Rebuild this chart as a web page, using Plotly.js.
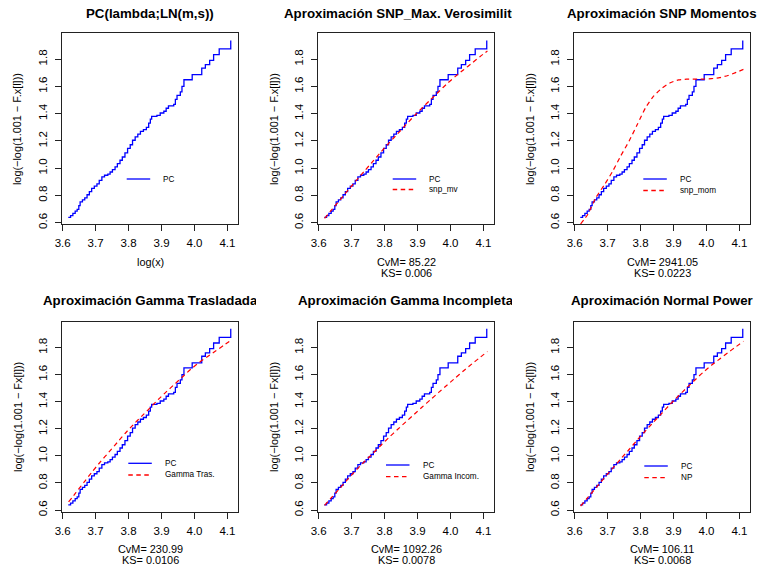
<!DOCTYPE html>
<html>
<head>
<meta charset="utf-8">
<script src="https://cdn.plot.ly/plotly-3.0.1.min.js"></script>
<style>
  html, body { margin: 0; padding: 0; background: #fff; }
  #chart { width: 757px; height: 567px; }
</style>
</head>
<body>
<div id="chart"></div>
<script>
// ---- Empirical curve PC: log(x) vs log(-log(1.001 - Fx[l])) (step function) ----
const pcLogX = [3.617, 3.624, 3.631, 3.638, 3.644, 3.649, 3.653, 3.660, 3.667, 3.674,
                3.681, 3.688, 3.696, 3.704, 3.711, 3.719, 3.727, 3.737, 3.744, 3.751,
                3.759, 3.766, 3.774, 3.781, 3.789, 3.797, 3.805, 3.812, 3.820, 3.828,
                3.836, 3.845, 3.854, 3.861, 3.866, 3.870, 3.886, 3.896, 3.907, 3.914,
                3.921, 3.937, 3.942, 3.947, 3.957, 3.962, 3.968, 3.993, 4.022, 4.033,
                4.046, 4.058, 4.075, 4.110];
const pcY    = [0.639, 0.652, 0.668, 0.685, 0.698, 0.725, 0.752, 0.768, 0.782, 0.805,
                0.828, 0.852, 0.868, 0.884, 0.910, 0.936, 0.948, 0.956, 0.972, 0.990,
                1.010, 1.033, 1.058, 1.082, 1.112, 1.145, 1.172, 1.205, 1.230, 1.250,
                1.270, 1.283, 1.300, 1.330, 1.360, 1.380, 1.388, 1.405, 1.418, 1.440,
                1.458, 1.468, 1.505, 1.535, 1.560, 1.600, 1.649, 1.686, 1.735, 1.760,
                1.791, 1.833, 1.875, 1.938];

// ---- Fitted approximations, evaluated on a common log(x) grid ----
const fitLogX    = [3.618, 3.640, 3.665, 3.690, 3.715, 3.740, 3.765, 3.790, 3.815, 3.840, 3.865,
                    3.890, 3.915, 3.940, 3.965, 3.990, 4.015, 4.040, 4.065, 4.090, 4.112];
const snpMv      = [0.632, 0.696, 0.768, 0.841, 0.912, 0.982, 1.052, 1.122, 1.189, 1.254, 1.319,
                    1.384, 1.445, 1.504, 1.563, 1.621, 1.674, 1.723, 1.771, 1.820, 1.860];
const snpMom     = [0.590, 0.662, 0.786, 0.877, 0.976, 1.091, 1.198, 1.320, 1.443, 1.530, 1.587,
                    1.627, 1.648, 1.653, 1.654, 1.654, 1.657, 1.665, 1.680, 1.703, 1.725];
const gammaTras  = [0.660, 0.728, 0.806, 0.884, 0.957, 1.027, 1.097, 1.167, 1.232, 1.293, 1.354,
                    1.416, 1.474, 1.530, 1.586, 1.642, 1.690, 1.733, 1.775, 1.818, 1.855];
const gammaIncom = [0.635, 0.695, 0.763, 0.832, 0.898, 0.960, 1.020, 1.080, 1.140, 1.196, 1.252,
                    1.307, 1.362, 1.416, 1.470, 1.523, 1.576, 1.628, 1.679, 1.727, 1.770];
const normPower  = [0.630, 0.693, 0.765, 0.838, 0.908, 0.978, 1.047, 1.117, 1.185, 1.251, 1.316,
                    1.381, 1.443, 1.502, 1.560, 1.617, 1.668, 1.715, 1.762, 1.806, 1.845];

// ---- Panel texts ----
const panelTitles = ["PC(lambda;LN(m,s))", "Aproximación SNP_Max. Verosimilitud",
                     "Aproximación SNP Momentos", "Aproximación Gamma Trasladada",
                     "Aproximación Gamma Incompleta", "Aproximación Normal Power"];
const fitSeries   = [null, snpMv, snpMom, gammaTras, gammaIncom, normPower];
const fitNames    = [null, "snp_mv", "snp_mom", "Gamma Tras.", "Gamma Incom.", "NP"];
const cvmValues   = [null, "85.22", "2941.05", "230.99", "1092.26", "106.11"];
const ksValues    = [null, "0.006", "0.0223", "0.0106", "0.0078", "0.0068"];
const yLabels     = ["log(−log(1.001 − F.x[l]))", "log(−log(1.001 − F.x[l]))", "log(−log(1.001 − F.x[l]))",
                     "log(−log(1.001 − Fx[l]))", "log(−log(1.001 − Fx[l]))", "log(−log(1.001 − Fx[l]))"];
const xTicks      = [3.6, 3.7, 3.8, 3.9, 4.0, 4.1];
const xTickText   = ["3.6", "3.7", "3.8", "3.9", "4.0", "4.1"];
const yTicks      = [0.6, 0.8, 1.0, 1.2, 1.4, 1.6, 1.8];
const yTickText   = ["0.6", "0.8", "1.0", "1.2", "1.4", "1.6", "1.8"];

// ---- Page geometry (pixels) ----
const W = 757, H = 567;
const FONT = "Liberation Sans, Arial, Helvetica, sans-serif";
const boxL = [62, 318, 574];
const boxW = 176;
const boxT = [33.3, 321.7];
const boxH = [191, 190];
const figW = 256;                     // width of each panel's figure region
const rowShift = [0, 287.5];          // vertical offset of the second row
// legend placement inside each box (offsets from box left / top)
const legLineX0 = [64.7, 74.7, 69.3, 66.3, 68, 70.3];
const legRowY   = [145.7, 145.7, 145.7, 141.6, 143.3, 144.3];
const legGap    = [0, 10.5, 11.5, 11.7, 11.7, 11.7];

const px = x => x / W;
const py = y => 1 - y / H;

const BLUE = "#0000ff", RED = "#ff0000";
const traces = [], shapes = [], annotations = [];
const layout = {
  width: W, height: H,
  margin: {l: 0, r: 0, t: 0, b: 0},
  paper_bgcolor: "#ffffff", plot_bgcolor: "#ffffff",
  showlegend: false,
  font: {family: FONT, color: "#000"}
};

for (let i = 0; i < 6; i++) {
  const r = Math.floor(i / 3), c = i % 3;
  const sfx = i === 0 ? "" : String(i + 1);
  const L = boxL[c], T = boxT[r], B = boxT[r] + boxH[r];
  const cx = L + boxW / 2;

  layout["xaxis" + sfx] = {
    domain: [px(L), px(L + boxW)], anchor: "y" + sfx,
    range: [3.598, 4.132], tickvals: xTicks, ticktext: xTickText,
    showline: true, mirror: true, linecolor: "#222", linewidth: 1,
    ticks: "outside", ticklen: 6, tickcolor: "#222", tickwidth: 1,
    showgrid: false, zeroline: false, fixedrange: true,
    tickfont: {family: FONT, size: 11.5, color: "#000"}, ticklabelstandoff: 2
  };
  layout["yaxis" + sfx] = {
    domain: [py(B), py(T)], anchor: "x" + sfx,
    range: [0.588, 1.99], tickvals: yTicks, ticktext: yTickText,
    showline: true, mirror: true, linecolor: "#222", linewidth: 1,
    ticks: "outside", ticklen: 6, tickcolor: "#222", tickwidth: 1,
    showgrid: false, zeroline: false, fixedrange: true, tickangle: -90,
    tickfont: {family: FONT, size: 11.5, color: "#000"}, ticklabelstandoff: 3
  };

  traces.push({
    type: "scatter", mode: "lines", name: "PC",
    x: pcLogX, y: pcY, xaxis: "x" + sfx, yaxis: "y" + sfx,
    line: {color: BLUE, width: 1.3, shape: "hv"}, hoverinfo: "skip"
  });
  if (fitSeries[i]) {
    traces.push({
      type: "scatter", mode: "lines", name: fitNames[i],
      x: fitLogX, y: fitSeries[i], xaxis: "x" + sfx, yaxis: "y" + sfx,
      line: {color: RED, width: 1.2, dash: "4.5px,3.5px", shape: "spline", smoothing: 0.6},
      hoverinfo: "skip"
    });
  }

  // panel title
  annotations.push({
    xref: "paper", yref: "paper", x: px(cx), y: py(13.3 + rowShift[r]),
    xanchor: "center", yanchor: "middle", showarrow: false,
    text: panelTitles[i], name: "title" + i,
    font: {family: FONT, size: 13.3, weight: 700, color: "#000"}
  });
  // y label
  annotations.push({
    xref: "paper", yref: "paper", x: px(L - 44.7), y: py((T + B) / 2),
    xanchor: "center", yanchor: "middle", showarrow: false, textangle: -90,
    text: yLabels[i], font: {family: FONT, size: 10.9, color: "#000"}
  });
  // x label / goodness-of-fit lines
  if (i === 0) {
    annotations.push({
      xref: "paper", yref: "paper", x: px(cx), y: py(262.3),
      xanchor: "center", yanchor: "middle", showarrow: false,
      text: "log(x)", font: {family: FONT, size: 10.9, color: "#000"}
    });
  } else {
    const y1 = (r === 0 ? 262.3 : 549.3), y2 = (r === 0 ? 273.3 : 559.6);
    annotations.push({
      xref: "paper", yref: "paper", x: px(cx), y: py(y1),
      xanchor: "center", yanchor: "middle", showarrow: false,
      text: "CvM= " + cvmValues[i], font: {family: FONT, size: 10.9, color: "#000"}
    });
    annotations.push({
      xref: "paper", yref: "paper", x: px(cx), y: py(y2),
      xanchor: "center", yanchor: "middle", showarrow: false,
      text: "KS= " + ksValues[i], font: {family: FONT, size: 10.9, color: "#000"}
    });
  }

  // legend (no frame): line samples + labels
  const lx0 = L + legLineX0[i], lx1 = lx0 + 23.5, tx = lx0 + 34.5;
  const rows = fitSeries[i] ? [["PC", BLUE, "solid"], [fitNames[i], RED, "4.5px,3.5px"]]
                            : [["PC", BLUE, "solid"]];
  rows.forEach((row, k) => {
    const yy = T + legRowY[i] + k * legGap[i];
    shapes.push({
      type: "line", xref: "paper", yref: "paper",
      x0: px(lx0), x1: px(lx1), y0: py(yy), y1: py(yy),
      line: {color: row[1], width: 1.3, dash: row[2]}
    });
    annotations.push({
      xref: "paper", yref: "paper", x: px(tx), y: py(yy),
      xanchor: "left", yanchor: "middle", showarrow: false,
      text: row[0], font: {family: FONT, size: 8.2, color: "#000"}
    });
  });
}
layout.shapes = shapes;
layout.annotations = annotations;

Plotly.newPlot("chart", traces, layout, {staticPlot: true, displayModeBar: false}).then(gd => {
  // main titles are confined to their own figure region, as in base graphics
  const nodes = gd.querySelectorAll("g.annotation");
  nodes.forEach(node => {
    const idx = +node.getAttribute("data-index");
    const ann = gd._fullLayout.annotations[idx];
    if (!ann || !ann.name || ann.name.indexOf("title") !== 0) return;
    const p = +ann.name.slice(5), c = p % 3;
    const svg = node.ownerSVGElement;
    let defs = svg.querySelector("defs");
    if (!defs) { defs = document.createElementNS("http://www.w3.org/2000/svg", "defs"); svg.insertBefore(defs, svg.firstChild); }
    const cp = document.createElementNS("http://www.w3.org/2000/svg", "clipPath");
    cp.setAttribute("id", "figclip" + p);
    cp.setAttribute("clipPathUnits", "userSpaceOnUse");
    const rect = document.createElementNS("http://www.w3.org/2000/svg", "rect");
    rect.setAttribute("x", c * figW); rect.setAttribute("y", 0);
    rect.setAttribute("width", figW); rect.setAttribute("height", H);
    cp.appendChild(rect); defs.appendChild(cp);
    node.setAttribute("clip-path", "url(#figclip" + p + ")");
  });
});
</script>
</body>
</html>
